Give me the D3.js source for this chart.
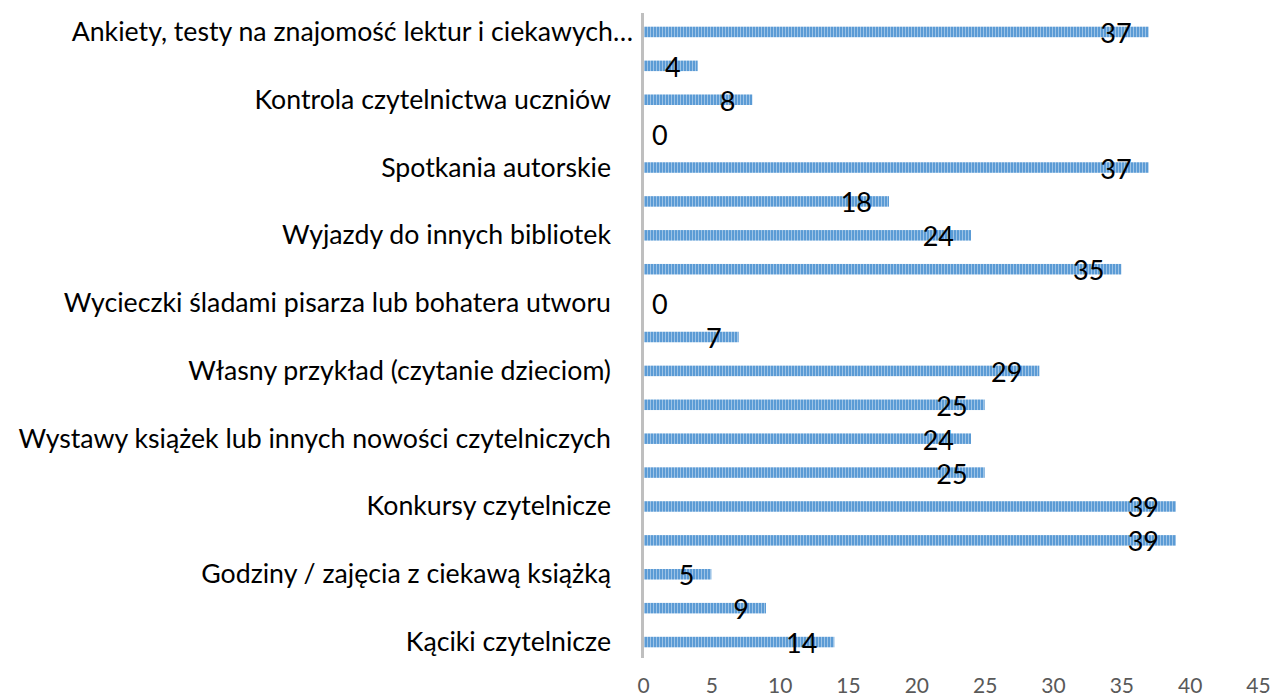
<!DOCTYPE html>
<html>
<head>
<meta charset="utf-8">
<script src="https://cdn.jsdelivr.net/npm/d3@7"></script>
<style>
  body { margin: 0; background: #fff; }
  svg { display: block; }
</style>
</head>
<body>
<svg width="1272" height="697"></svg>
<script>
// categories from top to bottom; Excel skipped every other label, so those are unknown here
const categories = [
  "Ankiety, testy na znajomość lektur i ciekawych…",
  "",
  "Kontrola czytelnictwa uczniów ",
  "",
  "Spotkania autorskie ",
  "",
  "Wyjazdy do innych bibliotek ",
  "",
  "Wycieczki śladami pisarza lub bohatera utworu ",
  "",
  "Własny przykład (czytanie dzieciom) ",
  "",
  "Wystawy książek lub innych nowości czytelniczych ",
  "",
  "Konkursy czytelnicze ",
  "",
  "Godziny / zajęcia z ciekawą książką ",
  "",
  "Kąciki czytelnicze "
];
const values = [37, 4, 8, 0, 37, 18, 24, 35, 0, 7, 29, 25, 24, 25, 39, 39, 5, 9, 14];
const xTicks = [0, 5, 10, 15, 20, 25, 30, 35, 40, 45];

const svg = d3.select("svg");
const width = +svg.attr("width");
const height = +svg.attr("height");

const x = d3.scaleLinear().domain([0, 45]).range([643, 1258]);
const y = d3.scaleBand()
  .domain(d3.range(categories.length))
  .range([15, 659])
  .paddingInner(0.69)
  .paddingOuter(0.345);

// striped fill like the Excel pattern
const defs = svg.append("defs");
const pat = defs.append("pattern")
  .attr("id", "stripes")
  .attr("patternUnits", "userSpaceOnUse")
  .attr("width", 3)
  .attr("height", 10);
pat.append("rect").attr("width", 3).attr("height", 10).attr("fill", "#9dc3e6");
pat.append("rect").attr("width", 2).attr("height", 10).attr("fill", "#5b9bd5");

svg.append("g")
  .selectAll("rect")
  .data(values)
  .join("rect")
  .attr("x", x(0))
  .attr("y", (d, i) => y(i))
  .attr("width", d => x(d) - x(0))
  .attr("height", y.bandwidth())
  .attr("fill", "url(#stripes)");

// vertical axis line
svg.append("line")
  .attr("x1", x(0) - 0.5).attr("x2", x(0) - 0.5)
  .attr("y1", 13).attr("y2", 658)
  .attr("stroke", "#bfbfbf")
  .attr("stroke-width", 3);

// category labels
svg.append("g")
  .selectAll("text")
  .data(categories)
  .join("text")
  .attr("x", d => d.endsWith(" ") ? 611 : 633)
  .attr("y", (d, i) => y(i) + y.bandwidth() / 2 + 9)
  .attr("text-anchor", "end")
  .attr("font-family", "Lato, sans-serif")
  .attr("font-size", 26.7)
  .attr("fill", "#000")
  .text(d => d.trim());

// data labels
svg.append("g")
  .selectAll("text")
  .data(values)
  .join("text")
  .attr("x", d => d === 0 ? x(0) + 9 : x(d) - 17)
  .attr("y", (d, i) => y(i) + y.bandwidth() / 2 + 11)
  .attr("text-anchor", d => d === 0 ? "start" : "end")
  .attr("font-family", "Lato, sans-serif")
  .attr("font-size", 27)
  .attr("fill", "#000")
  .text(d => d);

// bottom tick labels, no axis line
const xAxis = svg.append("g")
  .attr("transform", "translate(0,678)")
  .call(d3.axisBottom(x).tickValues(xTicks).tickSize(0).tickPadding(0));
xAxis.select(".domain").remove();
xAxis.selectAll("text")
  .attr("dy", "0.71em")
  .attr("font-family", "Lato, sans-serif")
  .attr("font-size", 21)
  .attr("fill", "#595959");
</script>
</body>
</html>
